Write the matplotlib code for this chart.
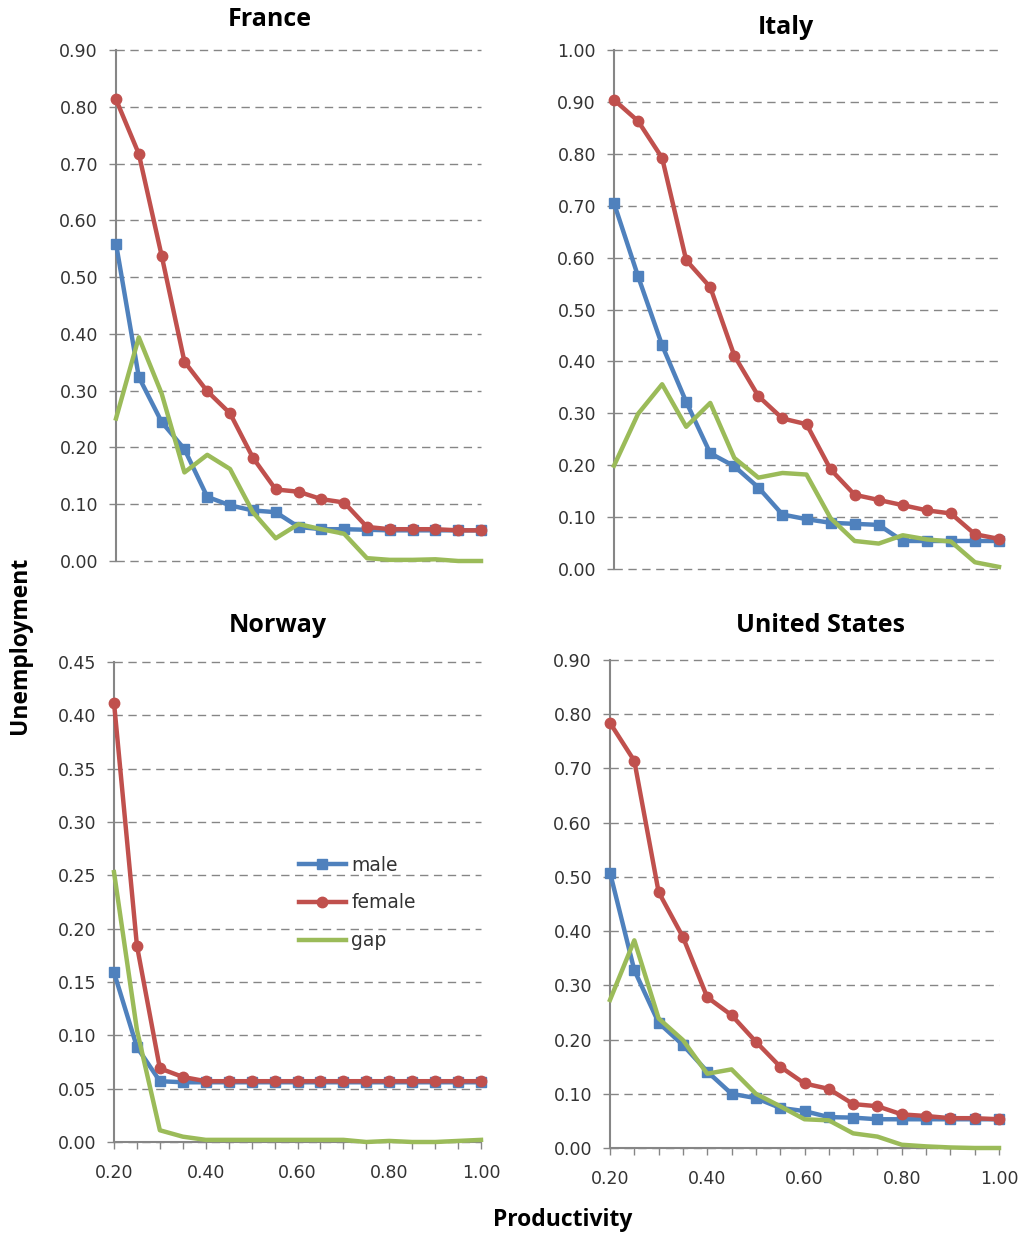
import numpy as np
import matplotlib
matplotlib.use("Agg")
import matplotlib.pyplot as plt
from matplotlib.ticker import FormatStrFormatter, MultipleLocator

productivity = [0.20, 0.25, 0.30, 0.35, 0.40, 0.45, 0.50, 0.55, 0.60,
                0.65, 0.70, 0.75, 0.80, 0.85, 0.90, 0.95, 1.00]

france_male = [0.559, 0.324, 0.245, 0.197, 0.113, 0.098, 0.089, 0.086, 0.060,
               0.056, 0.056, 0.055, 0.054, 0.054, 0.054, 0.054, 0.054]
france_female = [0.813, 0.717, 0.538, 0.351, 0.299, 0.260, 0.182, 0.126, 0.122,
                 0.109, 0.103, 0.060, 0.056, 0.056, 0.056, 0.054, 0.054]
france_gap = [0.251, 0.394, 0.295, 0.156, 0.187, 0.162, 0.086, 0.040, 0.065,
              0.056, 0.048, 0.005, 0.002, 0.002, 0.003, 0.000, 0.000]

italy_male = [0.705, 0.564, 0.431, 0.322, 0.223, 0.198, 0.157, 0.105, 0.096,
              0.089, 0.087, 0.085, 0.054, 0.054, 0.054, 0.054, 0.054]
italy_female = [0.904, 0.863, 0.792, 0.595, 0.543, 0.411, 0.333, 0.290, 0.279,
                0.192, 0.143, 0.133, 0.123, 0.113, 0.107, 0.067, 0.058]
italy_gap = [0.199, 0.299, 0.356, 0.274, 0.320, 0.214, 0.176, 0.185, 0.182,
             0.098, 0.054, 0.049, 0.065, 0.057, 0.053, 0.013, 0.004]

norway_male = [0.159, 0.089, 0.057, 0.056, 0.056, 0.056, 0.056, 0.056, 0.056,
               0.056, 0.056, 0.056, 0.056, 0.056, 0.056, 0.056, 0.056]
norway_female = [0.412, 0.184, 0.069, 0.061, 0.057, 0.057, 0.057, 0.057, 0.057,
                 0.057, 0.057, 0.057, 0.057, 0.057, 0.057, 0.057, 0.057]
norway_gap = [0.253, 0.105, 0.011, 0.005, 0.002, 0.002, 0.002, 0.002, 0.002,
              0.002, 0.002, 0.000, 0.001, 0.000, 0.000, 0.001, 0.002]

us_male = [0.508, 0.328, 0.231, 0.190, 0.141, 0.100, 0.092, 0.074, 0.068,
           0.057, 0.056, 0.053, 0.053, 0.053, 0.053, 0.053, 0.053]
us_female = [0.784, 0.714, 0.472, 0.389, 0.278, 0.245, 0.196, 0.150, 0.119,
             0.109, 0.081, 0.077, 0.062, 0.059, 0.055, 0.055, 0.053]
us_gap = [0.273, 0.383, 0.239, 0.199, 0.137, 0.145, 0.100, 0.077, 0.053,
          0.051, 0.027, 0.021, 0.006, 0.003, 0.001, 0.000, 0.000]

countries = ["France", "Italy", "Norway", "United States"]

BLUE = "#4F81BD"
RED = "#C0504D"
GREEN = "#9BBB59"
GRAY = "#868686"
TXT = "#333333"

W, H = 1023, 1236
fig = plt.figure(figsize=(W / 100, H / 100), dpi=100)


def box(l, r, t, b):
    return [l / W, 1 - b / H, (r - l) / W, (b - t) / H]


panels = [
    # country, male, female, gap, box, ymax, ystep, title pos, bottom row
    ("France", france_male, france_female, france_gap, box(116, 481, 50, 561), 0.9, 0.1, (270, 20), False),
    ("Italy", italy_male, italy_female, italy_gap, box(614, 999, 50, 569), 1.0, 0.1, (786, 27), False),
    ("Norway", norway_male, norway_female, norway_gap, box(114, 481, 662, 1142), 0.45, 0.05, (278, 625), True),
    ("United States", us_male, us_female, us_gap, box(610, 999, 660, 1148), 0.9, 0.1, (821, 626), True),
]

for name, male, female, gap, rect, ymax, ystep, tpos, bottom in panels:
    ax = fig.add_axes(rect)
    ax.plot(productivity, male, color=BLUE, lw=3.2, marker="s", ms=7.5,
            clip_on=False, zorder=3, label="male")
    ax.plot(productivity, female, color=RED, lw=3.2, marker="o", ms=7.5,
            clip_on=False, zorder=4, label="female")
    ax.plot(productivity, gap, color=GREEN, lw=3.2, clip_on=False, zorder=5,
            label="gap")
    ax.set_xlim(0.2, 1.0)
    ax.set_ylim(0, ymax)
    ax.yaxis.set_major_locator(MultipleLocator(ystep))
    ax.yaxis.set_major_formatter(FormatStrFormatter("%.2f"))
    ax.xaxis.set_major_locator(MultipleLocator(0.2))
    ax.xaxis.set_minor_locator(MultipleLocator(0.05))
    ax.xaxis.set_major_formatter(FormatStrFormatter("%.2f"))
    ax.grid(axis="y", color=GRAY, ls=(0, (6, 4)), lw=1, zorder=1)
    for gl in ax.yaxis.get_gridlines():
        gl.set_clip_on(False)
    ax.set_axisbelow(True)
    for s in ["top", "right"]:
        ax.spines[s].set_visible(False)
    ax.spines["left"].set_color(GRAY)
    ax.spines["left"].set_linewidth(1.5)
    ax.tick_params(axis="y", direction="out", length=5, width=1, color=GRAY,
                   labelcolor=TXT, labelsize=12.5, pad=8)
    if bottom:
        ax.spines["bottom"].set_color(GRAY)
        ax.spines["bottom"].set_linewidth(1.5)
        ax.tick_params(axis="x", which="both", direction="out", length=5,
                       width=1, color=GRAY, labelcolor=TXT, labelsize=12.5, pad=11)
    else:
        ax.spines["bottom"].set_visible(False)
        ax.tick_params(axis="x", which="both", length=0, labelbottom=False)
    fig.text(tpos[0] / W, 1 - tpos[1] / H, name, ha="center", va="center",
             fontsize=18, fontweight="bold", family="Open Sans")
    if name == "Norway":
        ax.legend(loc="center left", bbox_to_anchor=(0.504, 0.498),
                  frameon=False, fontsize=13.5, handlelength=2.5,
                  handletextpad=0.3, labelspacing=1.0, borderpad=0,
                  borderaxespad=0, labelcolor=TXT)

fig.text(20 / W, 1 - 645 / H, "Unemployment", rotation=90, ha="center",
         va="center", fontsize=16.5, fontweight="bold", family="Open Sans")
fig.text(563 / W, 1 - 1220 / H, "Productivity", ha="center", va="center",
         fontsize=16.5, fontweight="bold", family="Open Sans")

fig.savefig("out.png", dpi=100)
